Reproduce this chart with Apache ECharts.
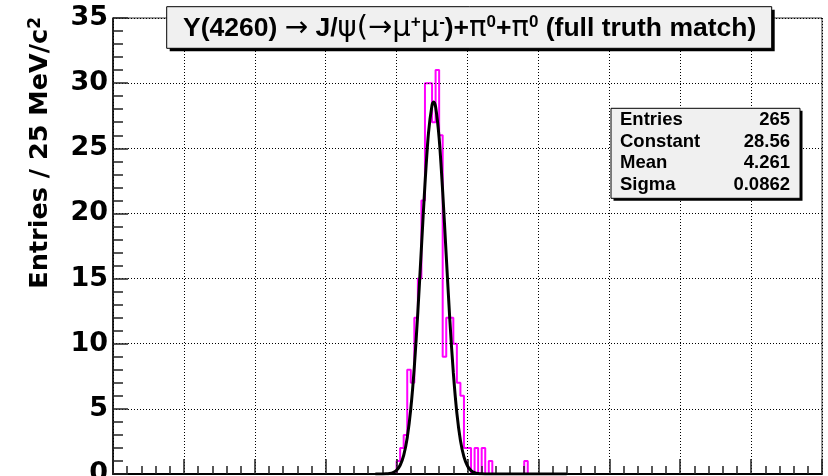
<!DOCTYPE html>
<html><head><meta charset="utf-8">
<script src="https://cdn.jsdelivr.net/npm/echarts@6/dist/echarts.min.js"></script>
<style>html,body{margin:0;padding:0;background:#fff}#c{width:828px;height:476px}</style>
</head><body><div id="c"></div>
<script>
// ---- data ----
const binWidthGeV = 0.025;
const binLowEdges = [3.950,3.975,4.000,4.025,4.050,4.075,4.100,4.125,4.150,4.175,
                     4.200,4.225,4.250,4.275,4.300,4.325,4.350,4.375,4.400,4.425,
                     4.450,4.475,4.500,4.525,4.550,4.575,4.600,4.625,4.650,4.675,
                     4.700,4.725,4.750,4.775,4.800,4.825,4.850,4.875,4.900,4.925];
const binCounts   = [0,0,1,2,3,8,7,12,15,21,
                     30,30,27,31,26,9,12,12,10,7,
                     6,2,2,0,2,0,2,0,1,0,
                     0,0,0,0,0,0,0,0,1,0];
// Gaussian fit curve, sampled along the drawn black line
const fitX = [3.850,3.875,3.900,3.925,3.950,3.975,4.000,4.025,4.050,4.075,4.100,4.125,4.150,4.175,4.200,4.225,4.250,4.261,
              4.275,4.300,4.325,4.350,4.375,4.400,4.425,4.450,4.475,4.500,4.525,4.550,4.575,4.600,4.625,4.650,4.700,4.800,5.000,5.200];
const fitY = [0.0003,0.0013,0.0044,0.0143,0.0426,0.116,0.292,0.673,1.428,2.784,4.993,8.228,12.47,17.36,22.23,26.18,28.33,28.56,
              28.19,25.78,21.68,16.76,11.91,7.78,4.675,2.581,1.311,0.612,0.262,0.103,0.0375,0.0125,0.004,0.001,0,0,0,0];
const xRange = [2, 7];
const yRange = [0, 35];
const statsLabels = ['Entries','Constant','Mean','Sigma'];
const statsValues = ['265','28.56','4.261','0.0862'];
const yTitle = 'Entries / 25 MeV/c';

// ---- build ----
const histData = binLowEdges.map((x,i)=>[x, binCounts[i]]);
histData.push([binLowEdges[binLowEdges.length-1] + binWidthGeV, binCounts[binCounts.length-1]]);
const fitData = fitX.map((x,i)=>[x, fitY[i]]);

const LIB = 'Liberation Sans';
const DJV = 'DejaVu Sans';
const chart = echarts.init(document.getElementById('c'), null, {renderer:'canvas'});

const statsGraphics = [];
statsLabels.forEach((lab,i)=>{
  const yy = 120 + i*21.7;
  statsGraphics.push({type:'text', x:620, y:yy, z:20,
    style:{text:lab, x:0, y:0, fill:'#000', font:'bold 18.5px "'+LIB+'"', textAlign:'left', textVerticalAlign:'middle'}});
  statsGraphics.push({type:'text', x:790, y:yy, z:20,
    style:{text:statsValues[i], x:0, y:0, fill:'#000', font:'bold 18.5px "'+LIB+'"', textAlign:'right', textVerticalAlign:'middle'}});
});

const option = {
  animation:false,
  backgroundColor:'#fff',
  grid:{left:113, right:6, top:18, bottom:2, containLabel:false, outerBoundsMode:'none',
        show:true, borderColor:'#333', borderWidth:1, backgroundColor:'transparent'},
  xAxis:{type:'value', min:xRange[0], max:xRange[1], interval:0.5, z:3,
    axisLine:{show:true, onZero:false, lineStyle:{color:'#000', width:2}},
    axisTick:{show:true, inside:true, length:15, lineStyle:{color:'#222', width:1.5}},
    minorTick:{show:true, splitNumber:5, length:8, lineStyle:{color:'#222', width:1.5}},
    axisLabel:{show:false},
    splitLine:{show:true, lineStyle:{color:'#000', width:1, type:[1,2]}}
  },
  yAxis:{type:'value', min:yRange[0], max:yRange[1], interval:5, z:3,
    axisLine:{show:true, lineStyle:{color:'#000', width:1.5}},
    axisTick:{show:true, inside:true, length:15, lineStyle:{color:'#222', width:1.5}},
    minorTick:{show:true, splitNumber:5, length:10, lineStyle:{color:'#222', width:1.5}},
    axisLabel:{show:true, margin:5, color:'#000', fontFamily:DJV, fontWeight:'bold', fontSize:27},
    splitLine:{show:true, lineStyle:{color:'#000', width:1, type:[1,2]}}
  },
  series:[
    {type:'line', data:histData, step:'end', symbol:'none', clip:true, z:2,
     lineStyle:{color:'#ff00ff', width:2}},
    {type:'line', data:fitData, smooth:0.3, symbol:'none', clip:true, z:4,
     lineStyle:{color:'#000', width:3}}
  ],
  graphic:[
    // y axis title
    {type:'text', x:40, y:17, rotation:Math.PI/2, z:20,
     style:{rich:{m:{fontFamily:DJV, fontWeight:'bold', fontSize:25.5, fill:'#000'},
                  s:{fontFamily:DJV, fontWeight:'bold', fontSize:17, fill:'#000', verticalAlign:'top'}},
            text:'{m|'+yTitle+'}{s|2}', x:0, y:0, align:'right', verticalAlign:'middle'}},
    // title box shadow + box
    {type:'rect', shape:{x:169.7, y:9.7, width:605, height:41.6}, z:10, style:{fill:'#000'}},
    {type:'rect', shape:{x:166.7, y:6.7, width:605, height:41.6}, z:11, style:{fill:'#f0f0f0', stroke:'#000', lineWidth:1}},
    {type:'text', x:183, y:28.5, z:12,
     style:{x:0, y:0, align:'left', verticalAlign:'middle',
       text:'{b|Y(4260) }{a|\u2192}{b| J/}{g|\u03c8(\u2192\u03bc}{u|+}{g|\u03bc}{u|-}{b|)+}{g|\u03c0}{u|0}{b|+}{g|\u03c0}{u|0}{b| (full truth match)}',
       rich:{b:{fontFamily:LIB, fontWeight:'bold', fontSize:26.5, fill:'#000'},
             a:{fontFamily:DJV, fontWeight:'normal', fontSize:28, fill:'#000'},
             g:{fontFamily:DJV, fontWeight:'normal', fontSize:29, fill:'#000'},
             u:{fontFamily:LIB, fontWeight:'bold', fontSize:17, fill:'#000', verticalAlign:'top'}}}},
    // stats box shadow + box
    {type:'rect', shape:{x:613.5, y:110.8, width:189, height:90}, z:10, style:{fill:'#000'}},
    {type:'rect', shape:{x:611, y:108.3, width:189, height:90}, z:11, style:{fill:'#f0f0f0', stroke:'#000', lineWidth:1}}
  ].concat(statsGraphics)
};
chart.setOption(option);
</script></body></html>
